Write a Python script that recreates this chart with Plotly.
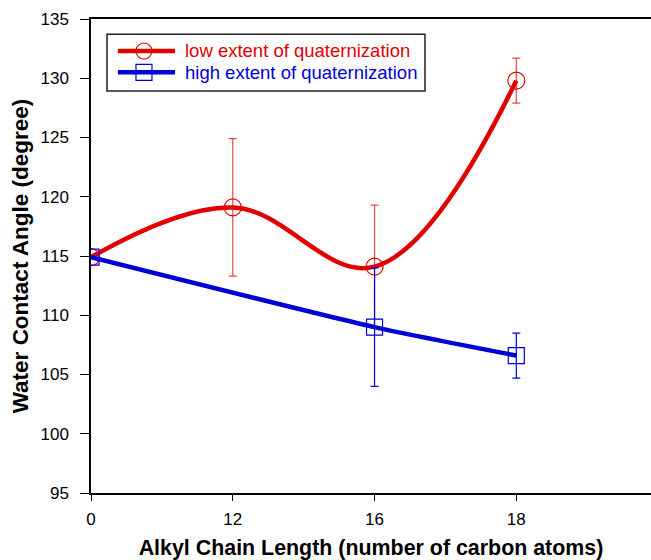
import plotly.graph_objects as go

chain_labels = ["0", "12", "16", "18"]
positions = [0, 1, 2, 3]

low_angle = [114.9, 119.1, 114.1, 129.8]
low_err = [0.0, 5.8, 5.2, 1.9]

high_positions = [0, 2, 3]
high_vals = [114.9, 109.0, 106.6]
high_errs = [0.0, 5.0, 1.9]

low_name = "low extent of quaternization"
high_name = "high extent of quaternization"

RED = "rgb(225,0,0)"
BLUE = "rgb(0,0,215)"
FONT = "Liberation Sans, Arial, sans-serif"

fig = go.Figure()
fig.add_trace(go.Scatter(
    x=positions, y=low_angle,
    mode="lines+markers", name=low_name, showlegend=False,
    line=dict(color=RED, width=4.5, shape="spline", smoothing=1.1),
    marker=dict(symbol="circle-open", size=17, color=RED, line=dict(width=1.2, color=RED)),
    error_y=dict(type="data", array=low_err, visible=True, color="rgba(230,40,40,0.85)",
                 thickness=1.2, width=4),
))
fig.add_trace(go.Scatter(
    x=high_positions, y=high_vals,
    mode="lines+markers", name=high_name, showlegend=False,
    line=dict(color=BLUE, width=4.5, shape="spline", smoothing=0.6),
    marker=dict(symbol="square-open", size=16, color=BLUE, line=dict(width=1.2, color=BLUE)),
    error_y=dict(type="data", array=high_errs, visible=True, color=BLUE,
                 thickness=1.2, width=4),
))

# legend box drawn in paper coordinates
shapes = [
    dict(type="rect", xref="paper", yref="paper", x0=0.0286, x1=0.5964, y0=0.848, y1=0.968,
         line=dict(color="#222", width=1.5), fillcolor="white", layer="above"),
]
annotations = []
for ypos, color, name, sym in [(0.9325, RED, low_name, "circle"), (0.8875, BLUE, high_name, "square")]:
    shapes.append(dict(type="line", xref="paper", yref="paper", x0=0.048, x1=0.15, y0=ypos, y1=ypos,
                       line=dict(color=color, width=4.5), layer="above"))
    shapes.append(dict(type="circle" if sym == "circle" else "rect",
                       xref="paper", yref="paper", xsizemode="pixel", ysizemode="pixel",
                       xanchor=0.0946, yanchor=ypos, x0=-8, x1=8, y0=-8, y1=8,
                       line=dict(color=color, width=1.2), layer="above"))
    annotations.append(dict(xref="paper", yref="paper", x=0.1640, y=ypos, xanchor="left",
                            yanchor="middle", text=name, showarrow=False,
                            font=dict(family=FONT, size=18.5, color=color)))

fig.update_layout(
    width=651, height=560,
    margin=dict(l=91, r=0, t=19, b=67, autoexpand=False),
    plot_bgcolor="white", paper_bgcolor="white",
    font=dict(family=FONT, size=17, color="black"),
    showlegend=False,
    shapes=shapes, annotations=annotations,
    xaxis=dict(
        range=[0, 3.95], automargin=False,
        tickmode="array", tickvals=positions, ticktext=chain_labels,
        showgrid=False, zeroline=False,
        showline=True, linecolor="black", linewidth=1.5, mirror=True,
        ticks="outside", ticklen=6, tickwidth=1.2, tickcolor="black",
        ticklabelstandoff=4,
        title=dict(text="<b>Alkyl Chain Length (number of carbon atoms)</b>",
                   font=dict(family=FONT, size=21.4), standoff=13),
    ),
    yaxis=dict(
        range=[95, 135], automargin=False,
        tickvals=[95, 100, 105, 110, 115, 120, 125, 130, 135],
        showgrid=False, zeroline=False,
        showline=True, linecolor="black", linewidth=1.5,
        ticks="outside", ticklen=9, tickwidth=1.2, tickcolor="black",
        ticklabelstandoff=8,
        title=dict(text="<b>Water Contact Angle (degree)</b>",
                   font=dict(family=FONT, size=22.5), standoff=6),
    ),
)

fig.write_html("out.html",
               config={"displayModeBar": False},
               post_script="document.body.style.margin='0';document.body.style.overflow='hidden';")
